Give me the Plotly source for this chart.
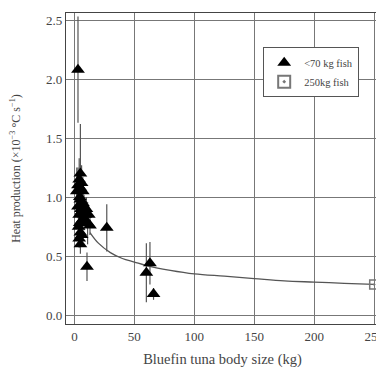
import plotly.graph_objects as go

# Small fish (<70 kg) measurements
small_mass = [3, 5, 2, 3, 4, 4.5, 5, 6, 6.5, 7, 3, 4, 5, 5.5, 6, 7, 8, 9, 3.5, 4.5, 5, 6, 8, 10, 12, 4, 5, 6, 11, 13, 10.5, 27, 60, 63, 66]
small_heat = [2.08, 1.20, 1.05, 1.10, 1.15, 1.00, 1.08, 1.12, 0.95, 1.05, 0.92, 0.85, 0.98, 0.90, 0.88, 0.95, 0.92, 0.85, 0.75, 0.78, 0.70, 0.80, 0.82, 0.90, 0.85, 0.65, 0.60, 0.68, 0.78, 0.76, 0.41, 0.74, 0.36, 0.44, 0.18]
small_err = [0.45, 0.42, 0.20, 0.15, 0.18, 0.12, 0.20, 0.15, 0.20, 0.12, 0.10, 0.12, 0.15, 0.10, 0.12, 0.15, 0.10, 0.10, 0.08, 0.10, 0.10, 0.12, 0.10, 0.10, 0.08, 0.08, 0.08, 0.10, 0.18, 0.08, 0.12, 0.20, 0.25, 0.18, 0.05]

# Large fish
large_mass = [250]
large_heat = [0.26]

# Fitted curve
curve_mass = [13, 20, 30, 40, 50, 60, 80, 100, 125, 150, 175, 200, 225, 250]
curve_heat = [0.70, 0.61, 0.53, 0.48, 0.45, 0.42, 0.38, 0.35, 0.33, 0.31, 0.29, 0.28, 0.27, 0.26]

x_ticks = [0, 50, 100, 150, 200, 250]
y_ticks = [0.0, 0.5, 1.0, 1.5, 2.0, 2.5]

font_family = "Liberation Serif"

fig = go.Figure()
fig.add_trace(go.Scatter(
    x=curve_mass, y=curve_heat, mode="lines", line=dict(color="#555", width=1.3, shape="spline"),
    showlegend=False, hoverinfo="skip"))
fig.add_trace(go.Scatter(
    x=small_mass, y=small_heat, mode="markers", name="<70 kg fish",
    marker=dict(symbol="triangle-up", size=12, color="black"),
    error_y=dict(type="data", array=small_err, color="#555", thickness=1.2, width=0)))
fig.add_trace(go.Scatter(
    x=large_mass, y=large_heat, mode="markers", name="250kg fish",
    marker=dict(symbol="square-open-dot", size=9, color="#777", line=dict(width=1.5))))

axis_common = dict(showgrid=True, gridcolor="#777", gridwidth=1.2, zeroline=False,
                   showline=True, linecolor="#444", linewidth=1.2, mirror=True,
                   ticks="", ticklabeloverflow="allow",
                   tickfont=dict(family=font_family, size=13, color="#444"))
fig.update_xaxes(range=[-7, 254], tickvals=x_ticks, ticktext=[str(v) for v in x_ticks],
                 title=dict(text="Bluefin tuna body size (kg)", font=dict(family=font_family, size=14.5, color="#444"), standoff=14),
                 **axis_common)
fig.update_yaxes(range=[-0.075, 2.56], tickvals=y_ticks, ticktext=[f"{v:.1f}" for v in y_ticks],
                 title=dict(text="Heat production (×10<sup>−3</sup> °C s<sup>−1</sup>)", font=dict(family=font_family, size=12, color="#444"), standoff=22),
                 **axis_common)

# The page body adds an 8px offset, so the figure is sized to fit the window
fig.update_layout(
    width=376, height=360,
    margin=dict(l=58, r=0, t=5, b=41),
    plot_bgcolor="white", paper_bgcolor="white",
    font=dict(family=font_family, color="#444"),
    legend=dict(x=0.63, y=0.89, xanchor="left", yanchor="top", bgcolor="white",
                bordercolor="#555", borderwidth=1, font=dict(family=font_family, size=10.5),
                itemsizing="constant"),
)

fig.write_html("out.html")
